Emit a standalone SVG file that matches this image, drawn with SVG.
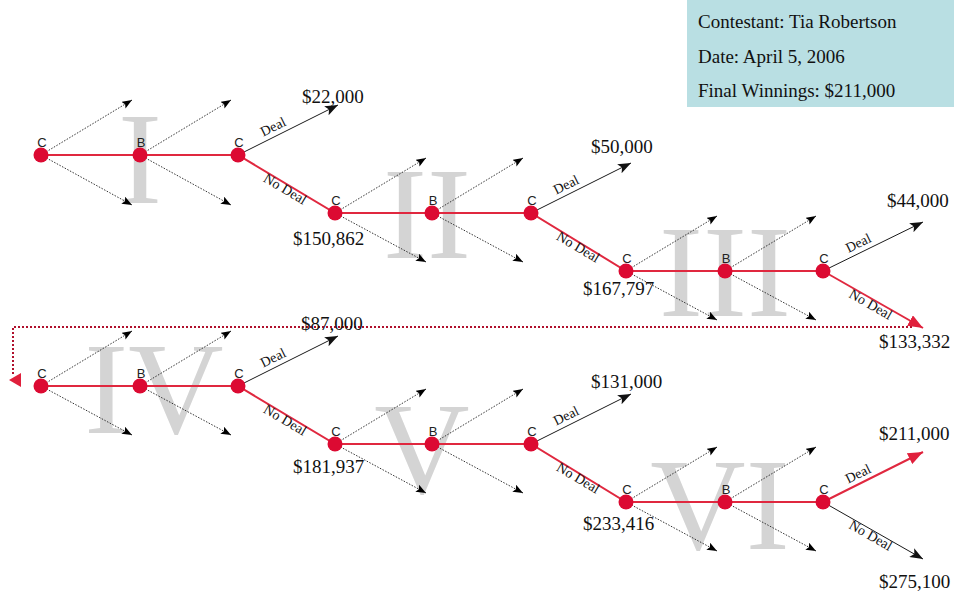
<svg xmlns="http://www.w3.org/2000/svg" width="956" height="594" viewBox="0 0 956 594">
<style>
.bg{fill:#ffffff}
.num{font-family:"Liberation Serif","Times New Roman",serif;font-size:132px;fill:#d4d4d4;text-anchor:middle}
.red{stroke:#e0283f;stroke-width:2;fill:none}
.deal{stroke:#1a1a1a;stroke-width:1;fill:none}
.dot{stroke:#333;stroke-width:1;stroke-dasharray:1.5 1.5;fill:none}
.loop{stroke:#b0102c;stroke-width:2;stroke-dasharray:2 2;fill:none}
.node{fill:#dc0a32}
.nl{font-family:"Liberation Sans",Arial,sans-serif;font-size:13px;fill:#222;text-anchor:middle}
.val{font-family:"Liberation Serif","Times New Roman",serif;font-size:19px;fill:#111}
.lab{font-family:"Liberation Serif","Times New Roman",serif;font-size:14px;fill:#111;text-anchor:middle}
.info{font-family:"Liberation Serif","Times New Roman",serif;font-size:19px;fill:#111}
</style>
<defs>
<marker id="ad" markerUnits="userSpaceOnUse" markerWidth="11" markerHeight="9" refX="10" refY="4" orient="auto"><path d="M0,0 L10,4 L0,8 L2,4 z" fill="#000"/></marker>
<marker id="ab" markerUnits="userSpaceOnUse" markerWidth="14" markerHeight="10" refX="13" refY="5" orient="auto"><path d="M0,0 L13,5 L0,10 L3,5 z" fill="#111"/></marker>
<marker id="ar" markerUnits="userSpaceOnUse" markerWidth="16" markerHeight="12" refX="15" refY="6" orient="auto"><path d="M0,0 L15,6 L0,12 z" fill="#e0203c"/></marker>
</defs>
<rect class="bg" x="0" y="0" width="956" height="594"/>
<g id="numerals">
<text class="num" x="140" y="203">I</text>
<text class="num" x="427" y="258">II</text>
<text class="num" x="725" y="316">III</text>
<text class="num" x="154" y="433">IV</text>
<text class="num" x="422" y="493">V</text>
<text class="num" x="720" y="549">VI</text>
</g>
<g id="info">
<rect x="687" y="0" width="267" height="107" fill="#b9dfe3"/>
<text class="info" x="698" y="28">Contestant: Tia Robertson</text>
<text class="info" x="698" y="63">Date: April 5, 2006</text>
<text class="info" x="698" y="97">Final Winnings: $211,000</text>
</g>
<g id="connectors">
<path class="loop" d="M912,327 H13 V374"/>
<polygon points="9,380 21,373 21,387" fill="#e0203c"/>
<g id="dotted">
<line class="dot" x1="41" y1="155" x2="132" y2="100" marker-end="url(#ad)"/>
<line class="dot" x1="41" y1="155" x2="132" y2="205" marker-end="url(#ad)"/>
<line class="dot" x1="140" y1="155" x2="231" y2="100" marker-end="url(#ad)"/>
<line class="dot" x1="140" y1="155" x2="231" y2="205" marker-end="url(#ad)"/>
<line class="dot" x1="335" y1="213" x2="426" y2="158" marker-end="url(#ad)"/>
<line class="dot" x1="335" y1="213" x2="426" y2="262" marker-end="url(#ad)"/>
<line class="dot" x1="432" y1="213" x2="523" y2="158" marker-end="url(#ad)"/>
<line class="dot" x1="432" y1="213" x2="523" y2="262" marker-end="url(#ad)"/>
<line class="dot" x1="626" y1="271" x2="717" y2="216" marker-end="url(#ad)"/>
<line class="dot" x1="626" y1="271" x2="717" y2="320" marker-end="url(#ad)"/>
<line class="dot" x1="725" y1="271" x2="816" y2="216" marker-end="url(#ad)"/>
<line class="dot" x1="725" y1="271" x2="816" y2="320" marker-end="url(#ad)"/>
<line class="dot" x1="41" y1="386" x2="132" y2="331" marker-end="url(#ad)"/>
<line class="dot" x1="41" y1="386" x2="132" y2="435" marker-end="url(#ad)"/>
<line class="dot" x1="140" y1="386" x2="231" y2="331" marker-end="url(#ad)"/>
<line class="dot" x1="140" y1="386" x2="231" y2="435" marker-end="url(#ad)"/>
<line class="dot" x1="335" y1="444" x2="426" y2="389" marker-end="url(#ad)"/>
<line class="dot" x1="335" y1="444" x2="426" y2="493" marker-end="url(#ad)"/>
<line class="dot" x1="432" y1="444" x2="523" y2="389" marker-end="url(#ad)"/>
<line class="dot" x1="432" y1="444" x2="523" y2="493" marker-end="url(#ad)"/>
<line class="dot" x1="626" y1="502" x2="717" y2="447" marker-end="url(#ad)"/>
<line class="dot" x1="626" y1="502" x2="717" y2="551" marker-end="url(#ad)"/>
<line class="dot" x1="725" y1="502" x2="816" y2="447" marker-end="url(#ad)"/>
<line class="dot" x1="725" y1="502" x2="816" y2="551" marker-end="url(#ad)"/>
</g>
<g id="deal-lines">
<line class="deal" x1="238" y1="155" x2="338" y2="105" marker-end="url(#ab)"/>
<line class="deal" x1="531" y1="213" x2="631" y2="163" marker-end="url(#ab)"/>
<line class="deal" x1="823" y1="271" x2="923" y2="222" marker-end="url(#ab)"/>
<line class="deal" x1="238" y1="386" x2="338" y2="336" marker-end="url(#ab)"/>
<line class="deal" x1="531" y1="444" x2="631" y2="394" marker-end="url(#ab)"/>
<line class="deal" x1="823" y1="502" x2="923" y2="559" marker-end="url(#ab)"/>
</g>
<g id="path-lines">
<polyline class="red" points="41,155 238,155 335,213 531,213 626,271 823,271"/>
<line class="red" x1="823" y1="271" x2="923" y2="328" marker-end="url(#ar)"/>
<polyline class="red" points="41,386 238,386 335,444 531,444 626,502 823,502"/>
<line class="red" x1="823" y1="502" x2="923" y2="452" marker-end="url(#ar)"/>
</g>
<g id="edge-labels">
<text class="lab" transform="translate(238,155) rotate(-26.6)" x="44" y="-5">Deal</text>
<text class="lab" transform="translate(238,155) rotate(30.5)" x="58" y="10">No Deal</text>
<text class="lab" transform="translate(531,213) rotate(-26.6)" x="44" y="-5">Deal</text>
<text class="lab" transform="translate(531,213) rotate(30.5)" x="58" y="10">No Deal</text>
<text class="lab" transform="translate(823,271) rotate(-26.1)" x="44" y="-5">Deal</text>
<text class="lab" transform="translate(823,271) rotate(29.7)" x="58" y="10">No Deal</text>
<text class="lab" transform="translate(238,386) rotate(-26.6)" x="44" y="-5">Deal</text>
<text class="lab" transform="translate(238,386) rotate(30.5)" x="58" y="10">No Deal</text>
<text class="lab" transform="translate(531,444) rotate(-26.6)" x="44" y="-5">Deal</text>
<text class="lab" transform="translate(531,444) rotate(30.5)" x="58" y="10">No Deal</text>
<text class="lab" transform="translate(823,502) rotate(-26.6)" x="44" y="-5">Deal</text>
<text class="lab" transform="translate(823,502) rotate(29.7)" x="58" y="10">No Deal</text>
</g>
</g>
<g id="n1"><circle class="node" cx="41" cy="155" r="7.5"/><text class="nl" x="42" y="147">C</text></g>
<g id="n2"><circle class="node" cx="140" cy="155" r="7.5"/><text class="nl" x="141" y="147">B</text></g>
<g id="n3"><circle class="node" cx="238" cy="155" r="7.5"/><text class="nl" x="239" y="147">C</text></g>
<g id="n4"><circle class="node" cx="335" cy="213" r="7.5"/><text class="nl" x="336" y="205">C</text></g>
<g id="n5"><circle class="node" cx="432" cy="213" r="7.5"/><text class="nl" x="433" y="205">B</text></g>
<g id="n6"><circle class="node" cx="531" cy="213" r="7.5"/><text class="nl" x="532" y="205">C</text></g>
<g id="n7"><circle class="node" cx="626" cy="271" r="7.5"/><text class="nl" x="627" y="263">C</text></g>
<g id="n8"><circle class="node" cx="725" cy="271" r="7.5"/><text class="nl" x="726" y="263">B</text></g>
<g id="n9"><circle class="node" cx="823" cy="271" r="7.5"/><text class="nl" x="824" y="263">C</text></g>
<g id="n10"><circle class="node" cx="41" cy="386" r="7.5"/><text class="nl" x="42" y="378">C</text></g>
<g id="n11"><circle class="node" cx="140" cy="386" r="7.5"/><text class="nl" x="141" y="378">B</text></g>
<g id="n12"><circle class="node" cx="238" cy="386" r="7.5"/><text class="nl" x="239" y="378">C</text></g>
<g id="n13"><circle class="node" cx="335" cy="444" r="7.5"/><text class="nl" x="336" y="436">C</text></g>
<g id="n14"><circle class="node" cx="432" cy="444" r="7.5"/><text class="nl" x="433" y="436">B</text></g>
<g id="n15"><circle class="node" cx="531" cy="444" r="7.5"/><text class="nl" x="532" y="436">C</text></g>
<g id="n16"><circle class="node" cx="626" cy="502" r="7.5"/><text class="nl" x="627" y="494">C</text></g>
<g id="n17"><circle class="node" cx="725" cy="502" r="7.5"/><text class="nl" x="726" y="494">B</text></g>
<g id="n18"><circle class="node" cx="823" cy="502" r="7.5"/><text class="nl" x="824" y="494">C</text></g>
<g id="values">
<text class="val" x="302" y="103">$22,000</text>
<text class="val" x="293" y="245">$150,862</text>
<text class="val" x="591" y="153">$50,000</text>
<text class="val" x="583" y="295">$167,797</text>
<text class="val" x="887" y="207">$44,000</text>
<text class="val" x="879" y="348">$133,332</text>
<text class="val" x="301" y="330">$87,000</text>
<text class="val" x="293" y="473">$181,937</text>
<text class="val" x="591" y="388">$131,000</text>
<text class="val" x="583" y="530">$233,416</text>
<text class="val" x="879" y="440">$211,000</text>
<text class="val" x="879" y="588">$275,100</text>
</g>
</svg>
